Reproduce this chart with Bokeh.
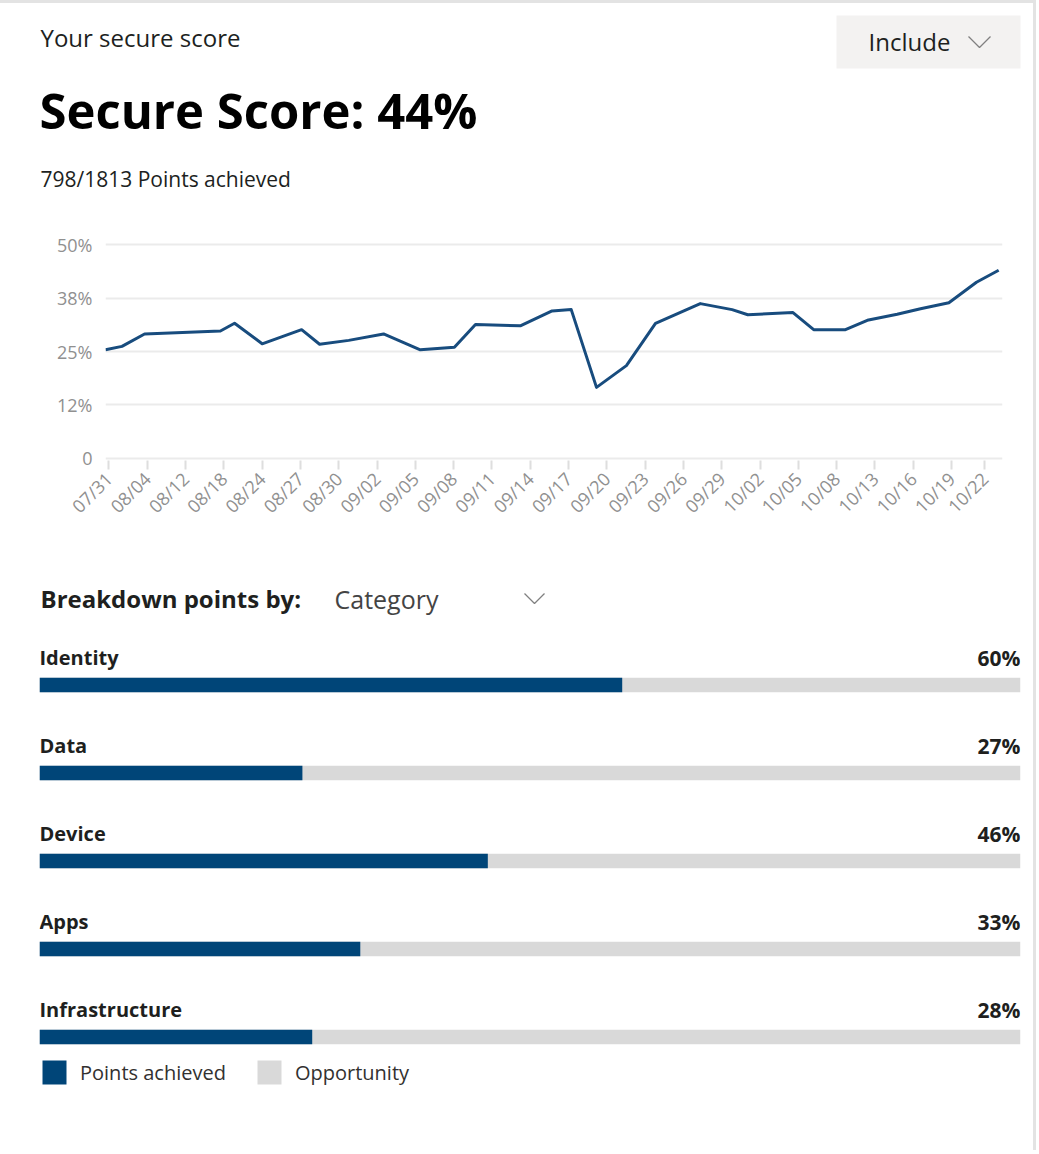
import math
from bokeh.plotting import figure
from bokeh.models import (Range1d, FixedTicker, Label, BoxAnnotation, ColumnDataSource,
                          Legend, LegendItem, Div)
from bokeh.layouts import column, row
from bokeh.embed import file_html
from bokeh.resources import INLINE
from bokeh.core.properties import value

# ---------------- data ----------------
header_title = "Your secure score"
score_text = "Secure Score: 44%"
points_text = "798/1813 Points achieved"

tick_pos = list(range(23)) + [22.87]
tick_labels = ["07/31", "08/04", "08/12", "08/18", "08/24", "08/27", "08/30", "09/02",
               "09/05", "09/08", "09/11", "09/14", "09/17", "09/20", "09/23", "09/26",
               "09/29", "10/02", "10/05", "10/08", "10/13", "10/16", "10/19", "10/22"]

score_x = [-0.09, 0.34, 0.93, 2.91, 3.28, 4.0, 5.03, 5.5, 6.26, 7.17, 8.13, 9.02, 9.57,
           10.74, 11.57, 12.07, 12.73, 13.51, 14.27, 15.44, 16.27, 16.68, 17.86, 18.4,
           19.23, 19.8, 20.58, 21.19, 21.93, 22.65, 23.23]
score_y = [25.4, 26.2, 29.1, 29.8, 31.6, 26.8, 30.1, 26.7, 27.6, 29.1, 25.4, 26.0, 31.3,
           31.0, 34.5, 34.8, 16.6, 21.7, 31.6, 36.2, 34.8, 33.6, 34.1, 30.1, 30.1, 32.3,
           33.7, 35.0, 36.4, 41.2, 44.0]

y_ticks = [0, 12.5, 25, 37.5, 50]
y_tick_labels = ["0", "12%", "25%", "38%", "50%"]

categories = ["Identity", "Data", "Device", "Apps", "Infrastructure"]
achieved = [59.4, 26.8, 45.7, 32.7, 27.8]
pct_labels = ["60%", "27%", "46%", "33%", "28%"]

# ---------------- style ----------------
FONT = "Open Sans"
DARK = "#201f1e"
BLUE = "#004578"
LINE_BLUE = "#184c7e"
TRACK = "#d9d9d9"
GRID = "#ebebeb"
AXIS_TXT = "#909090"
CARD_EDGE = "#e3e3e3"
W = 1033
EDGE = 3


def blank(top, bottom):
    p = figure(width=W, height=bottom - top, x_range=Range1d(0, W), y_range=Range1d(bottom, top),
               x_axis_type=None, y_axis_type=None, min_border=0,
               min_border_left=0, min_border_right=0, min_border_top=0, min_border_bottom=0,
               toolbar_location=None, output_backend="svg", outline_line_color=None)
    p.grid.visible = False
    return p


def lab(p, x, y, text, size, color=DARK, bold=False):
    p.add_layout(Label(x=x, y=y, text=text, text_font=FONT, text_font_size=f"{size}px",
                       text_color=color, text_font_style="bold" if bold else "normal",
                       text_baseline="middle", text_align="left"))


# ---------------- header (page y 3..225) ----------------
head = blank(EDGE, 225)
head.add_layout(BoxAnnotation(left=836, right=1020, top=15, bottom=68, level="underlay",
                              fill_color="#f3f2f1", fill_alpha=1, line_color=None))
lab(head, 40, 37, header_title, 24)
lab(head, 39, 109, score_text, 49, color="#000000", bold=True)
lab(head, 40, 178, points_text, 21)
lab(head, 868, 41, "Include", 24)
head.line([968, 979, 990], [36, 47, 36], line_color="#808080", line_width=1.3)

# ---------------- line chart (page y 225..535) ----------------
line = figure(width=W, height=310, x_range=Range1d(-0.09, 23.33), y_range=Range1d(-0.5, 50.5),
              min_border_left=105, min_border_right=W - 1002, min_border_top=17,
              min_border_bottom=75, toolbar_location=None, output_backend="svg",
              outline_line_color=None)
line.line(score_x, score_y, line_color=LINE_BLUE, line_width=3, line_join="round")
line.xgrid.visible = False
line.ygrid.grid_line_color = GRID
line.ygrid.grid_line_width = 2
line.yaxis.ticker = FixedTicker(ticks=y_ticks)
line.yaxis.major_label_overrides = {t: l for t, l in zip(y_ticks, y_tick_labels)}
line.yaxis.axis_line_color = None
line.yaxis.major_tick_line_color = None
line.yaxis.major_tick_out = 0
line.yaxis.major_tick_in = 0
line.yaxis.minor_tick_line_color = None
line.yaxis.major_label_standoff = 13
line.yaxis.major_label_text_font = FONT
line.yaxis.major_label_text_font_size = "18px"
line.yaxis.major_label_text_color = AXIS_TXT
line.xaxis.ticker = FixedTicker(ticks=tick_pos)
line.xaxis.major_label_overrides = {t: l for t, l in zip(tick_pos, tick_labels)}
line.xaxis.axis_line_color = None
line.xaxis.major_tick_line_color = "#dedede"
line.xaxis.major_tick_line_width = 2
line.xaxis.major_tick_out = 9
line.xaxis.major_tick_in = 0
line.xaxis.minor_tick_line_color = None
line.xaxis.major_label_orientation = math.pi / 4
line.xaxis.major_label_standoff = 6
line.xaxis.major_label_text_font = FONT
line.xaxis.major_label_text_font_size = "18px"
line.xaxis.major_label_text_color = AXIS_TXT

# ---------------- breakdown header (page y 535..625) ----------------
sub = blank(535, 625)
lab(sub, 40, 598, "Breakdown points by:", 24, bold=True)
lab(sub, 334, 598, "Category", 25, color="#444444")
sub.line([524, 534, 544], [593, 603, 593], line_color="#808080", line_width=1.3)

# ---------------- bars (page y 625..1150) ----------------
ROW = 88.0
TOP = 625
FIRST_BAR = 684.5 - TOP
FRAME_TOP = 5
FRAME_BOTTOM_PAD = 63
bars_h = 1150 - TOP
frame_h = bars_h - FRAME_TOP - FRAME_BOTTOM_PAD
y_top = (FRAME_TOP - FIRST_BAR) / ROW
y_bot = y_top + frame_h / ROW
bars = figure(width=W, height=bars_h, x_range=Range1d(0, 100), y_range=Range1d(y_bot, y_top),
              x_axis_type=None, y_axis_type=None,
              min_border_left=39, min_border_right=W - 1020, min_border_top=FRAME_TOP,
              min_border_bottom=FRAME_BOTTOM_PAD, toolbar_location=None,
              output_backend="svg", outline_line_color=None)
bars.grid.visible = False
src = ColumnDataSource(dict(row=list(range(len(categories))), cat=categories,
                            ach=achieved, full=[100] * len(categories), pct=pct_labels))
BAR_H = 14.5 / ROW
r_opp = bars.hbar(y="row", left=0, right="full", height=BAR_H, source=src,
                  fill_color=TRACK, line_color=None)
r_ach = bars.hbar(y="row", left=0, right="ach", height=BAR_H, source=src,
                  fill_color=BLUE, line_color=None)
bars.text(x=0, y="row", text="cat", source=src, y_offset=-27.5, text_font=value(FONT),
          text_font_style="bold", text_font_size="20px", text_color=DARK,
          text_baseline="middle", text_align="left")
bars.text(x=100, y="row", text="pct", source=src, y_offset=-27.5, text_font=value(FONT),
          text_font_style="bold", text_font_size="21px", text_color=DARK,
          text_baseline="middle", text_align="right")
legend = Legend(items=[LegendItem(label="Points achieved", renderers=[r_ach]),
                       LegendItem(label="Opportunity", renderers=[r_opp])],
                location="bottom_left", orientation="horizontal",
                glyph_width=30, glyph_height=30, label_standoff=11, spacing=28,
                padding=0, margin=0, border_line_color=None, background_fill_alpha=0,
                label_text_font=FONT, label_text_font_size="20px", label_text_color="#323130")
bars.add_layout(legend)

top_edge = Div(text="", width=W + EDGE, height=EDGE, margin=0,
               styles={"background-color": CARD_EDGE})
right_edge = Div(text="", width=EDGE, height=1150 - EDGE, margin=0,
                 styles={"background-color": CARD_EDGE})
body = column(row(head), row(line), row(sub), row(bars), spacing=0)
page = column(top_edge, row(body, right_edge, spacing=0), spacing=0)
open("out.html", "w").write(file_html(page, INLINE))
